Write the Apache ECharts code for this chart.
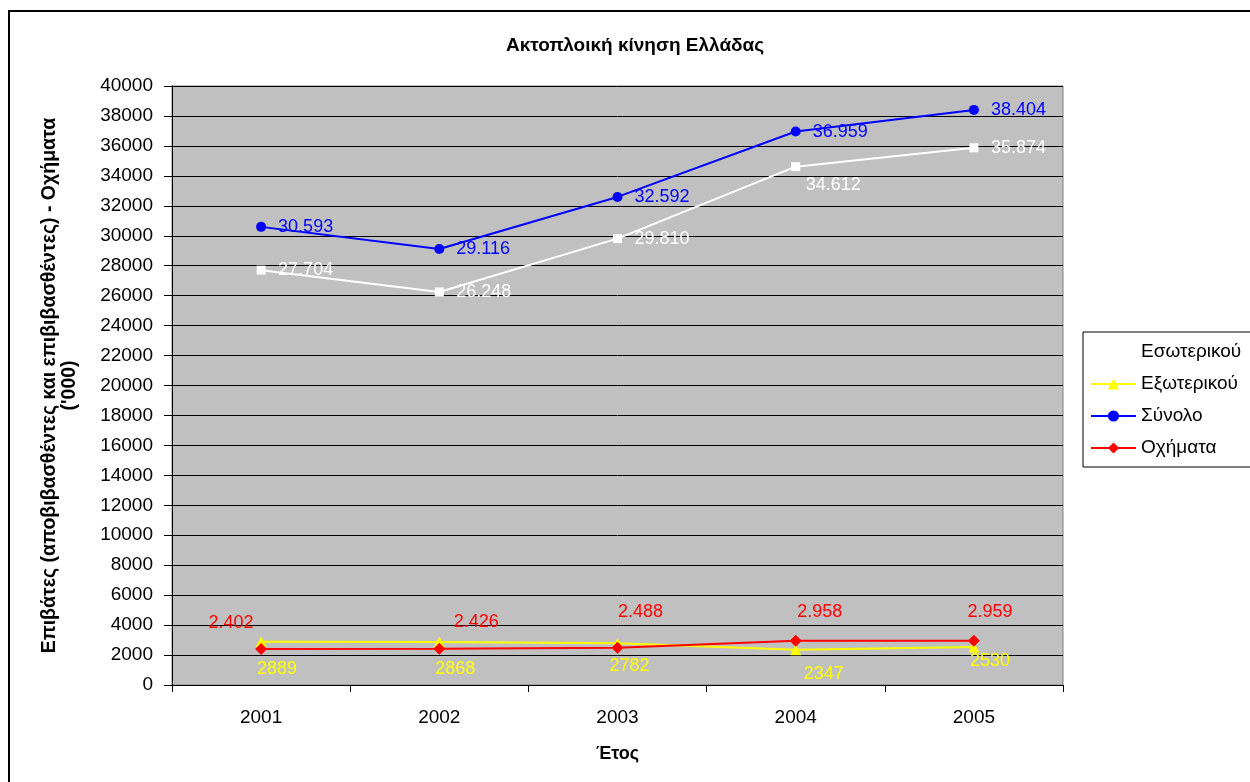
<!DOCTYPE html>
<html>
<head>
<meta charset="utf-8">
<script src="https://cdn.jsdelivr.net/npm/echarts@6/dist/echarts.min.js"></script>
<style>html,body{margin:0;padding:0;background:#fff}#c{width:1250px;height:782px}</style>
</head>
<body>
<div id="c"></div>
<script>
var years = ['2001', '2002', '2003', '2004', '2005'];
var esoterikou = [27704, 26248, 29810, 34612, 35874];
var exoterikou = [2889, 2868, 2782, 2347, 2530];
var synolo = [30593, 29116, 32592, 36959, 38404];
var ochimata = [2402, 2426, 2488, 2958, 2959];

// label placement (offsets from the point centre)
var whiteOff = [[17,0],[17,0],[17,0],[10,18],[17,0]];
var blueOff = [[17,0],[17,0],[17,0],[17,0],[17,0]];
var redOff = [[-30,-26],[37,-27],[23,-36],[24,-29],[16,-29]];
var yellowOff = [[16,27],[16,27],[12,23],[28,24],[16,14]];

var FONT = 'Liberation Sans, Arial, sans-serif';

function dotFmt(v) {
  return String(v).replace(/\B(?=(\d{3})+(?!\d))/g, '.');
}
function items(vals, offs, color, align, fmt) {
  return vals.map(function (v, i) {
    return {
      value: v,
      label: {
        show: true, position: 'inside', align: align, verticalAlign: 'middle',
        offset: offs[i], color: color, fontSize: 18, fontFamily: FONT,
        formatter: function (p) { return fmt(p.value); }
      }
    };
  });
}

var chart = echarts.init(document.getElementById('c'));
chart.setOption({
  animation: false,
  backgroundColor: '#fff',
  title: {
    text: 'Ακτοπλοική κίνηση Ελλάδας',
    left: 506, top: 36, padding: 0,
    textStyle: { fontFamily: FONT, fontSize: 19, fontWeight: 'bold', color: '#000' }
  },
  graphic: [{
    type: 'rect', shape: { x: 9, y: 11, width: 1400, height: 900 },
    style: { fill: 'none', stroke: '#000', lineWidth: 2 }, silent: true, z: -1
  }],
  legend: {
    orient: 'vertical', left: 1083, top: 332,
    itemWidth: 45, itemHeight: 14, itemGap: 12,
    padding: [10, 10, 9, 7],
    borderColor: '#000', borderWidth: 1, backgroundColor: '#fff',
    textStyle: { fontFamily: FONT, fontSize: 19, color: '#000', lineHeight: 20 },
    data: ['Εσωτερικού', 'Εξωτερικού', 'Σύνολο', 'Οχήματα']
  },
  grid: { left: 172, right: 187, top: 86, bottom: 97, show: true, backgroundColor: '#C0C0C0', borderColor: '#808080', borderWidth: 1 },
  xAxis: {
    type: 'category', data: years, boundaryGap: true,
    name: 'Έτος', nameLocation: 'middle', nameGap: 60,
    nameTextStyle: { fontFamily: FONT, fontSize: 18, fontWeight: 'bold', color: '#000' },
    axisLine: { lineStyle: { color: '#000', width: 1 } },
    axisTick: { show: true, length: 7, lineStyle: { color: '#000' } },
    axisLabel: { fontFamily: FONT, fontSize: 19, color: '#000', margin: 23 }
  },
  yAxis: {
    type: 'value', min: 0, max: 40000, interval: 2000,
    name: "Επιβάτες (αποβιβασθέντες και επιβιβασθέντες) - Οχήματα\n('000)",
    nameLocation: 'middle', nameGap: 92, nameRotate: 90,
    nameTextStyle: { fontFamily: FONT, fontSize: 19.5, fontWeight: 'bold', color: '#000', lineHeight: 20 },
    axisLine: { show: true, lineStyle: { color: '#000', width: 1 } },
    axisTick: { show: true, length: 8, lineStyle: { color: '#000' } },
    axisLabel: { fontFamily: FONT, fontSize: 19, color: '#000', margin: 19, formatter: function (v) { return String(v); } },
    splitLine: { lineStyle: { color: '#000', width: 1 } }
  },
  series: [
    {
      name: 'Εσωτερικού', type: 'line', data: items(esoterikou, whiteOff, '#fff', 'left', dotFmt),
      color: '#fff', symbol: 'rect', symbolSize: 9, lineStyle: { color: '#fff', width: 2 },
      itemStyle: { color: '#fff' }
    },
    {
      name: 'Εξωτερικού', type: 'line', data: items(exoterikou, yellowOff, '#FFFF00', 'center', String),
      color: '#FFFF00', symbol: 'triangle', symbolSize: 11, lineStyle: { color: '#FFFF00', width: 2 },
      itemStyle: { color: '#FFFF00' }
    },
    {
      name: 'Σύνολο', type: 'line', data: items(synolo, blueOff, '#0000FF', 'left', dotFmt),
      color: '#0000FF', symbol: 'circle', symbolSize: 10, lineStyle: { color: '#0000FF', width: 2 },
      itemStyle: { color: '#0000FF' }
    },
    {
      name: 'Οχήματα', type: 'line', data: items(ochimata, redOff, '#FF0000', 'center', dotFmt),
      color: '#FF0000', symbol: 'diamond', symbolSize: 12, lineStyle: { color: '#FF0000', width: 2 },
      itemStyle: { color: '#FF0000' }
    }
  ]
});
</script>
</body>
</html>
